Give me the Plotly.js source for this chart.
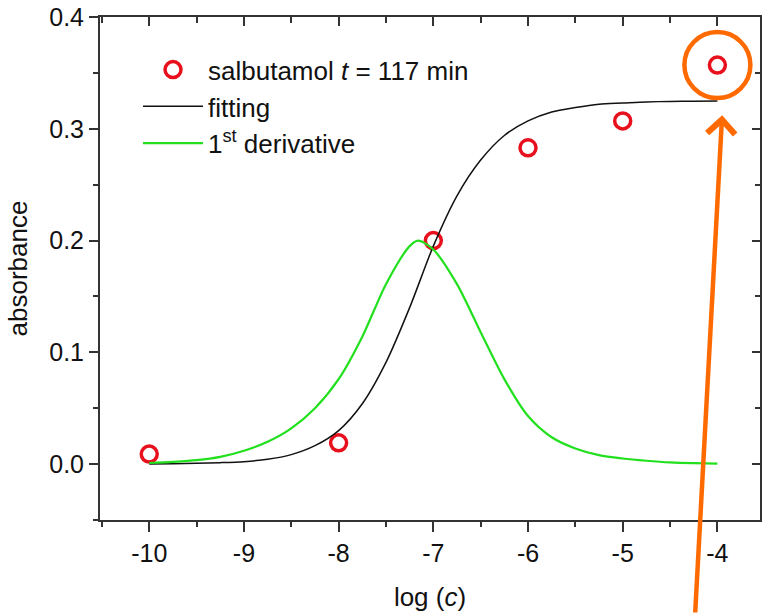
<!DOCTYPE html>
<html>
<head>
<meta charset="utf-8">
<script src="https://cdn.plot.ly/plotly-3.0.1.min.js"></script>
<style>html,body{margin:0;padding:0;background:#fff;}#chart{width:769px;height:614px;}</style>
</head>
<body>
<div id="chart"></div>
<script>
// measured data: salbutamol t = 117 min
const logC = [-10, -8, -7, -6, -5, -4];
const absorbance = [0.009, 0.019, 0.200, 0.283, 0.307, 0.357];

// fitting curve
const fitX = [-10, -9.75, -9.5, -9.25, -9, -8.75, -8.5, -8.25, -8, -7.75, -7.5, -7.25, -7, -6.75, -6.5, -6.25, -6, -5.75, -5.5, -5.25, -5, -4.75, -4.5, -4.25, -4];
const fitY = [0.000, 0.0004, 0.0008, 0.0013, 0.0022, 0.0043, 0.0085, 0.0165, 0.030, 0.054, 0.091, 0.140, 0.195, 0.240, 0.272, 0.294, 0.307, 0.315, 0.319, 0.322, 0.323, 0.324, 0.3245, 0.3247, 0.3248];

// 1st derivative curve
const derX = [-10, -9.75, -9.5, -9.25, -9, -8.75, -8.5, -8.25, -8, -7.75, -7.5, -7.25, -7.16, -7, -6.75, -6.5, -6.25, -6, -5.75, -5.5, -5.25, -5, -4.75, -4.5, -4.25, -4];
const derY = [0.001, 0.002, 0.0035, 0.0065, 0.012, 0.020, 0.032, 0.050, 0.076, 0.114, 0.161, 0.195, 0.200, 0.192, 0.161, 0.118, 0.076, 0.043, 0.024, 0.014, 0.008, 0.005, 0.003, 0.0015, 0.0008, 0.0004];

const xTickVals = [-10, -9, -8, -7, -6, -5, -4];
const xTickText = ['-10', '-9', '-8', '-7', '-6', '-5', '-4'];
const yTickVals = [0.0, 0.1, 0.2, 0.3, 0.4];
const yTickText = ['0.0', '0.1', '0.2', '0.3', '0.4'];

const names = ['salbutamol <i>t</i> = 117 min', 'fitting', '1<sup>st</sup> derivative'];

const FONT = 'Liberation Sans, Arial, sans-serif';
const AX = '#333333';
const xRange = [-10.52, -3.55];
const yRange = [-0.05, 0.4];

const traces = [
  {x: logC, y: absorbance, type: 'scatter', mode: 'markers', name: names[0],
   marker: {symbol: 'circle-open', size: 16, color: '#e8101c', line: {width: 3.5, color: '#e8101c'}}},
  {x: fitX, y: fitY, type: 'scatter', mode: 'lines', name: names[1],
   line: {color: '#111111', width: 1.5, shape: 'spline', smoothing: 0.8}},
  {x: derX, y: derY, type: 'scatter', mode: 'lines', name: names[2],
   line: {color: '#22e01e', width: 2.2, shape: 'spline', smoothing: 0.8}},
  {x: [null], y: [null], xaxis: 'x2', yaxis: 'y2', type: 'scatter', mode: 'markers', showlegend: false, hoverinfo: 'skip'}
];

const last = logC.length - 1;

const layout = {
  width: 769, height: 614,
  margin: {l: 100, r: 9, t: 17, b: 94},
  paper_bgcolor: '#ffffff', plot_bgcolor: '#ffffff',
  font: {family: FONT, color: '#111111', size: 25},
  showlegend: true,
  legend: {x: 0.0576, y: 0.942, xanchor: 'left', yanchor: 'top', bgcolor: 'rgba(0,0,0,0)',
           font: {family: FONT, size: 26, color: '#111'}, itemwidth: 60, tracegroupgap: 0},
  xaxis: {range: xRange, tickvals: xTickVals, ticktext: xTickText, ticks: 'outside', ticklen: 10, tickwidth: 2, tickcolor: AX,
          minor: {dtick: 0.5, tick0: -10, ticks: 'outside', ticklen: 5, tickwidth: 2, tickcolor: AX},
          showline: true, linewidth: 2, linecolor: AX, showgrid: false, zeroline: false,
          tickfont: {family: FONT, size: 25, color: '#111'},
          title: {text: 'log (<i>c</i>)', font: {family: FONT, size: 26, color: '#111'}, standoff: 22}},
  yaxis: {range: yRange, tickvals: yTickVals, ticktext: yTickText, ticks: 'outside', ticklen: 9, tickwidth: 2, tickcolor: AX,
          minor: {dtick: 0.05, tick0: 0, ticks: 'outside', ticklen: 5, tickwidth: 2, tickcolor: AX},
          showline: true, linewidth: 2, linecolor: AX, showgrid: false, zeroline: false,
          tickfont: {family: FONT, size: 25, color: '#111'},
          title: {text: 'absorbance', font: {family: FONT, size: 26, color: '#111'}, standoff: 14}},
  xaxis2: {overlaying: 'x', side: 'top', range: xRange, tickvals: xTickVals, showticklabels: false,
           ticks: 'inside', ticklen: 9, tickwidth: 2, tickcolor: AX,
           minor: {dtick: 0.5, tick0: -10, ticks: 'inside', ticklen: 6, tickwidth: 2, tickcolor: AX},
           showline: true, linewidth: 2, linecolor: AX, showgrid: false, zeroline: false},
  yaxis2: {overlaying: 'y', side: 'right', range: yRange, tickvals: yTickVals, showticklabels: false,
           ticks: 'inside', ticklen: 8, tickwidth: 2, tickcolor: AX,
           minor: {dtick: 0.05, tick0: 0, ticks: 'inside', ticklen: 5, tickwidth: 2, tickcolor: AX},
           showline: true, linewidth: 2, linecolor: AX, showgrid: false, zeroline: false},
  shapes: [
    {type: 'circle', xref: 'x', yref: 'y', xsizemode: 'pixel', ysizemode: 'pixel',
     xanchor: logC[last], yanchor: absorbance[last], x0: -33, x1: 33, y0: -33, y1: 33,
     line: {color: '#ff6a00', width: 4.5}, layer: 'above'}
  ],
  annotations: [
    {x: logC[last] + 0.05, y: 0.312, xref: 'x', yref: 'y', text: '', showarrow: true,
     ax: -27, ay: 500, axref: 'pixel', ayref: 'pixel', arrowhead: 4, arrowsize: 1.2, arrowwidth: 4.5,
     arrowcolor: '#ff6a00', standoff: 0, startstandoff: 0}
  ]
};

Plotly.newPlot('chart', traces, layout, {displayModeBar: false, staticPlot: true});
</script>
</body>
</html>
